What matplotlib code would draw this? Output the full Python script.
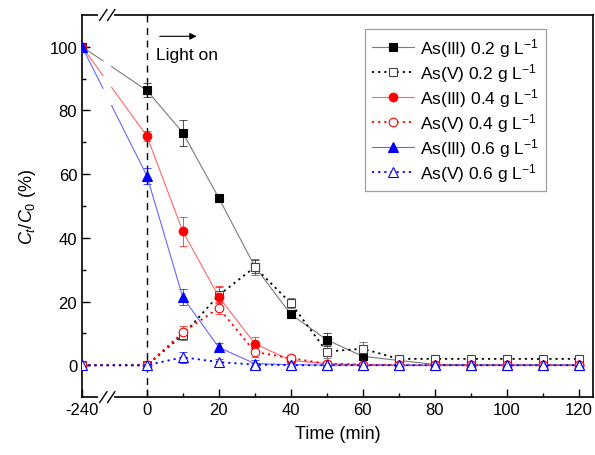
import matplotlib
matplotlib.use('Agg')
import matplotlib.pyplot as plt
import matplotlib.transforms as mtransforms
import numpy as np

plt.rcParams['font.family'] = ['Liberation Sans', 'DejaVu Sans']
plt.rcParams['mathtext.fontset'] = 'custom'
plt.rcParams['mathtext.rm'] = 'Liberation Sans'
plt.rcParams['mathtext.it'] = 'Liberation Sans:italic'

# ── data ─────────────────────────────────────────────────────────────────────
time = [-240, 0, 10, 20, 30, 40, 50, 60, 70, 80, 90, 100, 110, 120]

as3_02 = [100, 86.3, 73.0, 52.5, 31.0, 16.0, 8.0, 2.8, 1.5, 0.3, 0.1, 0.1, 0.1, 0.1]
as5_02 = [0, 0, 9.5, 22.0, 30.8, 19.5, 4.3, 5.2, 2.0, 2.0, 2.0, 2.0, 2.0, 2.0]
as3_04 = [100, 72.0, 42.0, 21.5, 6.8, 1.5, 0.5, 0.2, 0, 0, 0, 0, 0, 0]
as5_04 = [0, 0, 10.3, 18.0, 4.2, 2.2, 0.5, 0.2, 0, 0, 0, 0, 0, 0]
as3_06 = [100, 59.5, 21.3, 5.6, 0.5, 0.2, 0, 0, 0, 0, 0, 0, 0, 0]
as5_06 = [0, 0, 2.5, 1.0, 0.2, 0, 0, 0, 0, 0, 0, 0, 0, 0]

err3_02 = [0, 2.2, 4.0, 1.2, 2.0, 1.0, 2.0, 2.5, 1.0, 0.5, 0.5, 0.5, 0.5, 0.5]
err5_02 = [0, 0, 1.5, 2.5, 2.5, 1.5, 2.0, 2.2, 1.0, 1.0, 1.0, 1.0, 1.0, 1.0]
err3_04 = [0, 1.5, 4.5, 3.5, 2.0, 1.0, 0.5, 0.5, 0.3, 0.3, 0.3, 0.3, 0.3, 0.3]
err5_04 = [0, 0, 2.0, 2.0, 1.5, 1.0, 0.5, 0.5, 0.3, 0.3, 0.3, 0.3, 0.3, 0.3]
err3_06 = [0, 2.5, 2.5, 1.5, 1.0, 0.5, 0.3, 0.3, 0.3, 0.3, 0.3, 0.3, 0.3, 0.3]
err5_06 = [0, 0.5, 1.8, 1.0, 0.5, 0.3, 0.3, 0.3, 0.3, 0.3, 0.3, 0.3, 0.3, 0.3]

labels = ["As(III) 0.2 g L$^{-1}$", "As(V) 0.2 g L$^{-1}$",
          "As(III) 0.4 g L$^{-1}$", "As(V) 0.4 g L$^{-1}$",
          "As(III) 0.6 g L$^{-1}$", "As(V) 0.6 g L$^{-1}$"]

# broken axis: -240 is drawn at the left edge
X_LEFT = -18
GAP = (-12.2, -9.8)


def tx(t):
    return np.array([X_LEFT if v < 0 else v for v in t], dtype=float)


x = tx(time)

fig = plt.figure(figsize=(5.95, 4.56), dpi=100)
ax = fig.add_axes([0.138, 0.127, 0.8586, 0.838])

dotted = (0, (1.2, 2.2))
series = [
    (as3_02, err3_02, 's', 'black', 'black', '#7a7a7a', '-', 5.6),
    (as5_02, err5_02, 's', 'white', '#444444', 'black', dotted, 5.6),
    (as3_04, err3_04, 'o', 'red', 'red', '#ff6666', '-', 6.2),
    (as5_04, err5_04, 'o', 'white', 'red', 'red', dotted, 6.2),
    (as3_06, err3_06, '^', 'blue', 'blue', '#6666ff', '-', 6.6),
    (as5_06, err5_06, '^', 'white', 'blue', 'blue', dotted, 6.6),
]

handles = []
for i, (y, e, mk, fc, ec, lc, ls, ms) in enumerate(series):
    y = np.array(y, dtype=float)
    solid = ls == '-'
    lw = 0.8 if solid else 1.3
    ax.errorbar(x, y, yerr=e, fmt='none', ecolor=ec, elinewidth=0.6,
                capsize=3, capthick=0.6, alpha=0.8, zorder=3 + i * 0.1)
    if solid:
        # line before light-on has a gap at the axis break
        x0, x1, y0, y1 = x[0], x[1], y[0], y[1]
        ya = y0 + (GAP[0] - x0) / (x1 - x0) * (y1 - y0)
        yb = y0 + (GAP[1] - x0) / (x1 - x0) * (y1 - y0)
        ax.plot([x0, GAP[0]], [y0, ya], color=lc, lw=lw, zorder=4)
        ax.plot([GAP[1], x1], [yb, y1], color=lc, lw=lw, zorder=4)
        xs, ys = x[1:], y[1:]
        ax.plot(x[:1], y[:1], marker=mk, ms=ms, mfc=fc, mec=ec, mew=0.8,
                ls='none', zorder=5)
    else:
        xs, ys = x, y
    h, = ax.plot(xs, ys, marker=mk, ms=ms, mfc=fc, mec=ec, mew=0.8,
                 color=lc, ls=ls, lw=lw, label=labels[i], zorder=5 + i * 0.1)
    handles.append(h)

# light-on marker
ax.axvline(0, color='black', ls=(0, (5, 4)), lw=1.0, zorder=2)
ax.annotate('', xy=(14.6, 103.3), xytext=(2.8, 103.3),
            arrowprops=dict(arrowstyle='-|>', color='black', lw=0.8,
                            mutation_scale=10))
ax.text(2.6, 97.5, 'Light on', fontsize=12.5, va='center', ha='left')

# ── axes ─────────────────────────────────────────────────────────────────────
ax.set_xlim(X_LEFT, 124)
ax.set_ylim(-10, 110)
xt = [-240, 0, 20, 40, 60, 80, 100, 120]
ax.set_xticks(tx(xt))
ax.set_xticklabels([str(v) for v in xt], fontsize=12)
ax.set_xticks(np.arange(10, 120, 20), minor=True)
ax.set_yticks(np.arange(0, 101, 20))
ax.set_yticks(np.arange(10, 100, 20), minor=True)
ax.tick_params(axis='y', labelsize=12)
ax.tick_params(which='major', direction='in', length=5.5, width=1.0)
ax.tick_params(which='minor', direction='in', length=3, width=1.0)
for s in ax.spines.values():
    s.set_linewidth(1.2)

ax.set_xlabel('Time (min)', fontsize=13, labelpad=6)
ax.set_ylabel('$C_t/C_0$ (%)', fontsize=13, labelpad=8)

# break marks on top and bottom spines
trans = mtransforms.blended_transform_factory(ax.transData, ax.transAxes)
for yb in (0, 1):
    ax.plot([-12.9, -9.8], [yb, yb], color='white', lw=3,
            transform=trans, clip_on=False, zorder=10)
    for xc in (-12.1, -9.9):
        ax.plot([xc - 1.0, xc + 1.0], [yb - 0.014, yb + 0.014],
                color='black', lw=1.0, transform=trans, clip_on=False,
                zorder=11)

leg = ax.legend(handles=handles, loc='upper left',
                bbox_to_anchor=(0.554, 0.963), fontsize=12.5,
                frameon=True, fancybox=False, edgecolor='#888888',
                handlelength=2.4, labelspacing=0.12, borderpad=0.4,
                handletextpad=0.35, borderaxespad=0)
leg.get_frame().set_linewidth(0.9)

fig.savefig('out.png', dpi=100, facecolor='white')
